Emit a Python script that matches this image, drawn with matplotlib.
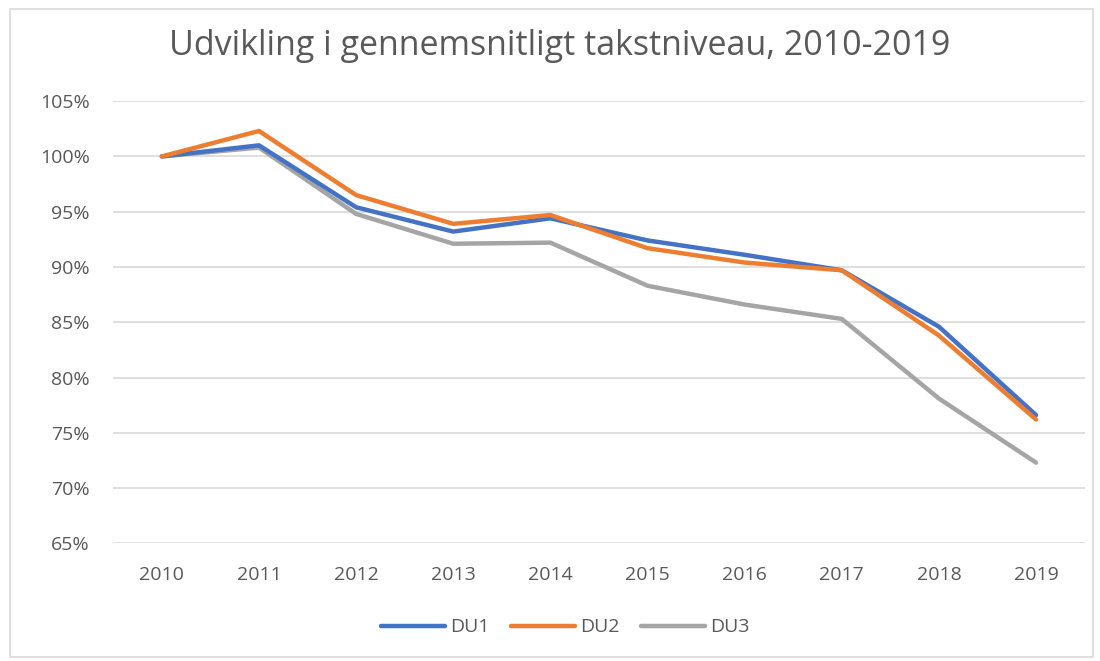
import numpy as np
import matplotlib.pyplot as plt
from matplotlib.patches import Rectangle
from matplotlib.ticker import FuncFormatter

plt.rcParams.update({
    "font.family": ["Open Sans", "DejaVu Sans"],
    "font.size": 14,
})

years = ['2010', '2011', '2012', '2013', '2014', '2015', '2016', '2017', '2018', '2019']
du1 = [100.0, 101.0, 95.4, 93.2, 94.4, 92.4, 91.1, 89.7, 84.6, 76.6]
du2 = [100.0, 102.3, 96.5, 93.9, 94.7, 91.7, 90.4, 89.7, 83.8, 76.2]
du3 = [100.0, 100.8, 94.8, 92.1, 92.2, 88.3, 86.6, 85.3, 78.1, 72.3]

text_col = '#595959'


def make_plot():
    fig = plt.figure(figsize=(11, 6.61), dpi=100)
    ax = fig.add_axes([0.103, 0.178, 0.883, 0.669])

    x = np.arange(len(years))
    ax.plot(x, du1, color='#4472C4', lw=3.2, label='DU1', solid_capstyle='round', zorder=3)
    ax.plot(x, du2, color='#ED7D31', lw=3.2, label='DU2', solid_capstyle='round', zorder=4)
    ax.plot(x, du3, color='#A5A5A5', lw=3.2, label='DU3', solid_capstyle='round', zorder=2)

    ax.set_xlim(-0.5, len(years) - 0.5)
    ax.set_ylim(65, 105)
    ax.set_yticks(np.arange(65, 106, 5))
    ax.yaxis.set_major_formatter(FuncFormatter(lambda v, p: f'{v:.0f}%'))
    ax.set_xticks(x)
    ax.set_xticklabels(years)

    ax.grid(True, axis='y', color='#D9D9D9', lw=1.2)
    ax.set_axisbelow(True)
    for s in ax.spines.values():
        s.set_visible(False)
    ax.tick_params(axis='both', length=0, colors=text_col, labelsize=14)
    ax.tick_params(axis='y', pad=17)
    ax.tick_params(axis='x', pad=16)

    # title centred on the chart area, not the axes
    fig.text(560 / 1100, 1 - 46 / 661, 'Udvikling i gennemsnitligt takstniveau, 2010-2019',
             color=text_col, fontsize=24.5, ha='center', va='center')

    leg = ax.legend(loc='upper center', bbox_to_anchor=(0.465, -0.13), ncol=3,
                    frameon=False, fontsize=14, handlelength=3.3,
                    handletextpad=0.25, columnspacing=1.1)
    for t in leg.get_texts():
        t.set_color(text_col)

    # light frame around the chart
    fig.patches.append(Rectangle((10 / 1100, 1 - 657 / 661), 1083 / 1100, 648 / 661,
                                 transform=fig.transFigure, fill=False,
                                 edgecolor='#D9D9D9', lw=1.2))

    plt.savefig('out.png', dpi=100)


def main():
    make_plot()


if __name__ == "__main__":
    main()
